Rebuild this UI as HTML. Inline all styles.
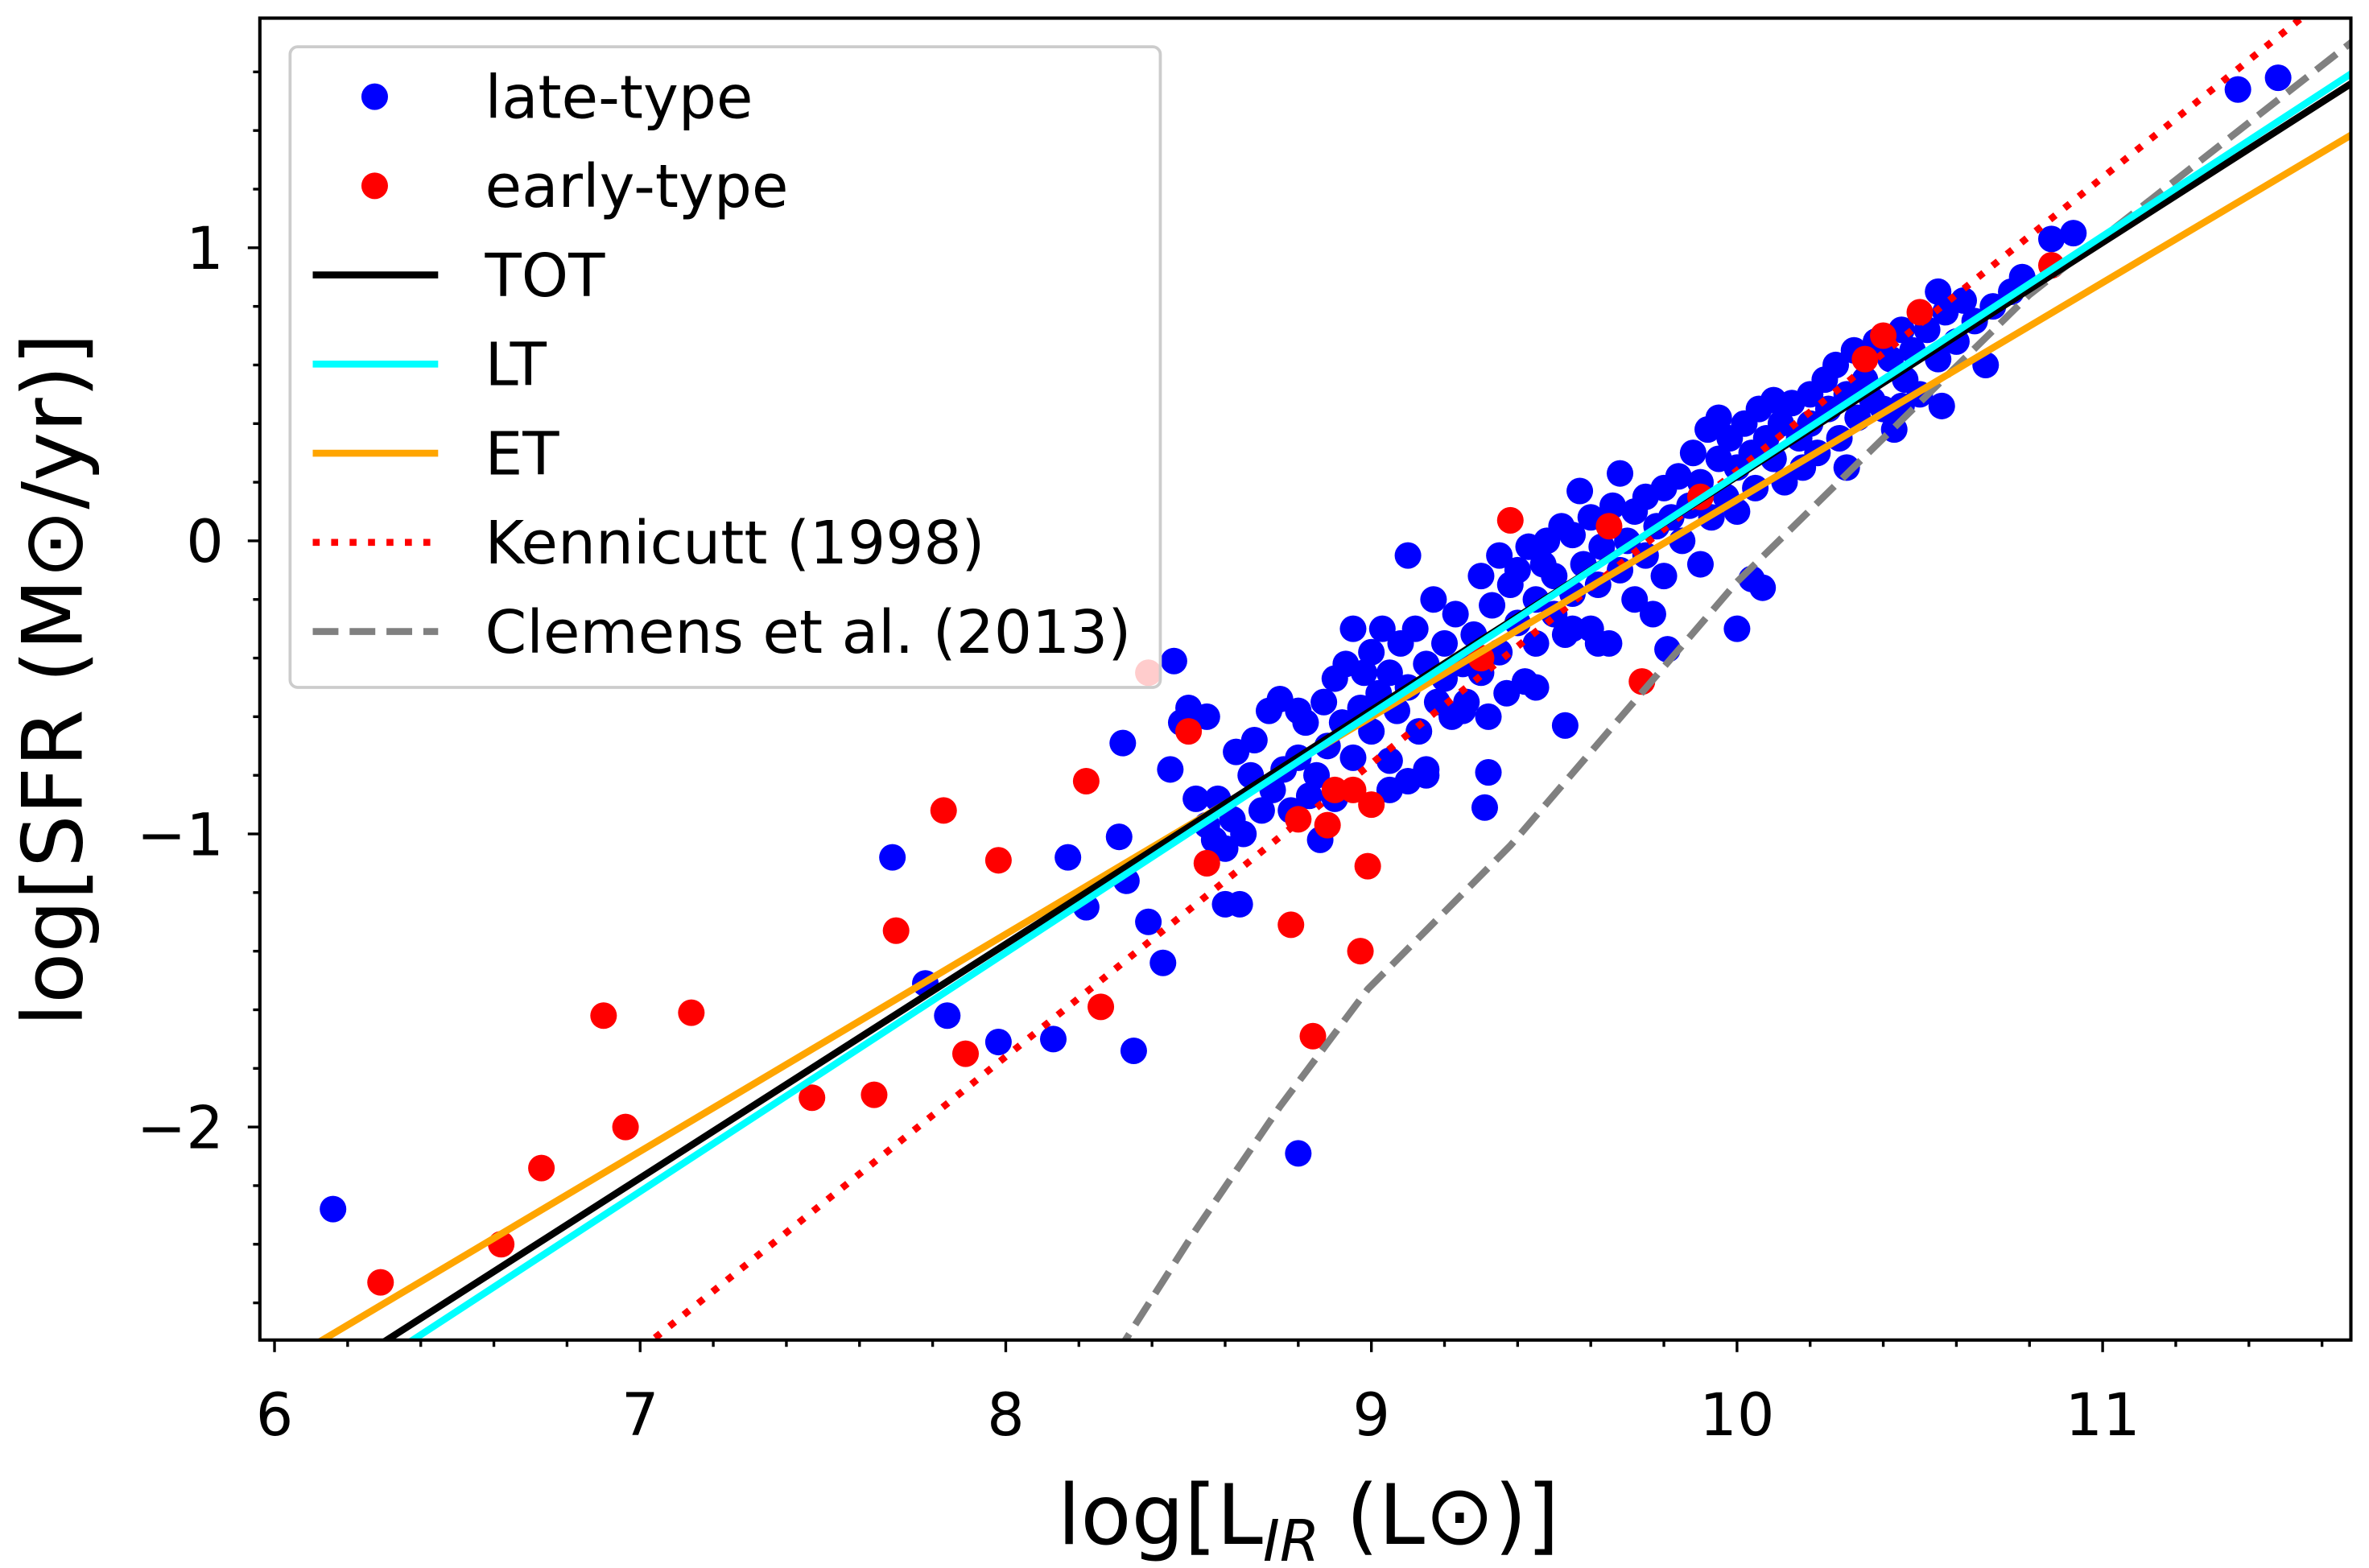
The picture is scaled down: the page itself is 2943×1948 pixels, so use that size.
<!DOCTYPE html>
<html><head><meta charset="utf-8"><style>
html,body{margin:0;padding:0;background:#fff;width:2943px;height:1948px;overflow:hidden}
svg{display:block}
text{font-family:"DejaVu Sans","Liberation Sans",sans-serif;fill:#000}
</style></head><body>
<svg id="chart" width="2943" height="1948" viewBox="0 0 1568 1037.9" preserveAspectRatio="none" xmlns="http://www.w3.org/2000/svg">
<g id="plot"></g>
</svg>
<script>
const xTicks=[6,7,8,9,10,11];
const yTicks=[-2,-1,0,1];
const yTickLabels=["\u22122","\u22121","0","1"];
const lateX=[6.16,7.69,7.78,7.84,7.98,8.13,8.17,8.22,8.31,8.32,8.35,8.33,8.39,8.43,8.46,8.80,9.10,10.0,10.04,10.07,9.81,9.53,9.32,9.31,11.37,11.48,10.92,10.86,10.55,10.45,10.56,10.68,
8.45,8.48,8.50,8.52,8.55,8.55,8.57,8.58,8.60,8.60,8.62,8.63,8.64,8.65,8.67,8.68,8.70,8.72,8.73,8.75,8.76,8.78,8.80,8.80,8.82,8.83,8.85,8.86,8.87,8.88,8.90,8.90,8.92,8.93,8.95,8.95,8.97,8.98,9.00,9.00,9.02,9.03,9.05,9.05,9.07,9.08,9.10,9.10,9.12,9.13,9.15,9.15,9.17,9.18,9.20,9.20,9.22,9.23,9.25,9.26,9.28,9.30,9.30,9.32,9.33,9.35,9.35,9.37,9.38,9.40,9.40,9.42,9.43,9.45,9.45,9.47,9.48,9.50,9.50,9.52,9.53,9.55,9.55,9.57,9.58,9.60,9.60,9.62,9.63,9.65,9.66,9.68,9.68,9.70,9.72,9.72,9.75,9.75,9.77,9.78,9.80,9.80,9.82,9.84,9.85,9.87,9.88,9.90,9.90,9.92,9.93,9.95,9.95,9.97,9.98,10.00,10.00,10.02,10.04,10.05,10.06,10.08,10.10,10.10,10.12,10.13,10.15,10.17,10.18,10.20,10.20,10.22,10.24,10.25,10.27,10.28,10.30,10.30,10.32,10.33,10.35,10.37,10.38,10.40,10.42,10.43,10.45,10.46,10.48,10.50,10.52,10.55,10.57,10.60,10.62,10.65,10.70,10.75,10.78,9.55,9.62,9.45,9.25,9.05,9.15];
const lateY=[-2.28,-1.08,-1.51,-1.62,-1.71,-1.70,-1.08,-1.25,-1.01,-0.69,-1.74,-1.16,-1.30,-1.44,-0.41,-2.09,-0.05,-0.30,-0.13,-0.16,-0.37,-0.63,-0.79,-0.91,1.54,1.58,1.05,1.03,0.85,0.46,0.46,0.60,
-0.78,-0.62,-0.57,-0.88,-0.60,-0.97,-1.02,-0.88,-1.05,-1.24,-0.95,-0.72,-1.24,-1.00,-0.80,-0.68,-0.92,-0.58,-0.85,-0.54,-0.78,-0.92,-0.74,-0.58,-0.62,-0.87,-0.80,-1.02,-0.55,-0.70,-0.47,-0.88,-0.62,-0.42,-0.30,-0.74,-0.57,-0.45,-0.65,-0.38,-0.52,-0.30,-0.75,-0.45,-0.58,-0.35,-0.82,-0.50,-0.30,-0.65,-0.42,-0.78,-0.20,-0.55,-0.35,-0.47,-0.60,-0.25,-0.42,-0.55,-0.32,-0.12,-0.45,-0.60,-0.22,-0.05,-0.38,-0.52,-0.15,-0.28,-0.10,-0.48,-0.02,-0.20,-0.35,-0.08,0.00,-0.25,-0.12,0.05,-0.32,-0.18,0.02,0.17,-0.08,-0.30,0.08,-0.15,-0.02,-0.35,0.12,-0.10,0.23,0.00,-0.20,0.10,0.15,-0.05,-0.25,0.05,0.18,-0.12,0.08,0.22,0.00,0.12,0.30,-0.08,0.20,0.38,0.08,0.28,0.42,0.15,0.35,0.10,0.25,0.40,0.30,0.18,0.45,0.35,0.28,0.48,0.40,0.20,0.47,0.35,0.25,0.50,0.40,0.30,0.55,0.45,0.60,0.35,0.50,0.25,0.65,0.42,0.55,0.48,0.68,0.45,0.62,0.38,0.72,0.55,0.65,0.50,0.72,0.62,0.78,0.68,0.82,0.75,0.80,0.85,0.90,-0.30,-0.35,-0.50,-0.58,-0.85,-0.80];
const earlyX=[6.29,6.62,6.73,6.90,6.96,7.14,7.47,7.64,7.70,7.83,7.89,7.98,8.22,8.26,8.39,8.78,8.84,8.97,8.99,9.38,9.74,10.50,10.86,8.50,8.55,8.90,8.95,9.00,8.80,8.88,9.30,9.65,9.90,10.35,10.40];
const earlyY=[-2.53,-2.40,-2.14,-1.62,-2.00,-1.61,-1.90,-1.89,-1.33,-0.92,-1.75,-1.09,-0.82,-1.59,-0.45,-1.31,-1.69,-1.40,-1.11,0.07,-0.48,0.78,0.94,-0.65,-1.10,-0.85,-0.85,-0.90,-0.95,-0.97,-0.40,0.05,0.15,0.62,0.70];
const totFit=[0.798,-7.76];
const ltFit=[0.815,-7.925];
const etFit=[0.741,-7.27];
const kenFit=[1.0,-9.76];
const clemX=[8.30,8.515,8.75,8.99,9.38,10.0,10.8,11.7];
const clemY=[-2.78,-2.36,-1.93,-1.53,-1.04,-0.14,0.84,1.72];

const NS="http://www.w3.org/2000/svg";
const L=172,R=1556,T=12,B=887;
const sx=v=>181.7+(v-6)*242;
const sy=v=>358-v*194;
const plot=document.getElementById('plot');
function mk(tag,attrs,parent){const e=document.createElementNS(NS,tag);for(const k in attrs)e.setAttribute(k,attrs[k]);(parent||plot).appendChild(e);return e;}
const defs=mk('defs',{});
const cp=mk('clipPath',{id:'clip'},defs);
mk('rect',{x:L,y:T,width:R-L,height:B-T},cp);
const data=mk('g',{'clip-path':'url(#clip)'});


const LW=4.6;
const R0=8.8;

for(let i=0;i<lateX.length;i++){
  const c=mk('circle',{cx:sx(lateX[i]),cy:sy(lateY[i]),r:R0,fill:'#0000ff'},data);
  
  
}
for(let i=0;i<earlyX.length;i++){
  const c=mk('circle',{cx:sx(earlyX[i]),cy:sy(earlyY[i]),r:R0,fill:'#ff0000'},data);
  
  
}
function fitLine(f,color,dash,name){
  const a=5.9,b=11.8;
  const attrs={x1:sx(a),y1:sy(f[0]*a+f[1]),x2:sx(b),y2:sy(f[0]*b+f[1]),stroke:color,'stroke-width':LW,fill:'none'};
  if(dash)attrs['stroke-dasharray']=dash;
  const l=mk('line',attrs,data);
  
  
}
fitLine(kenFit,'#ff0000','4.6 7.6','kennicutt-line');
const pts=clemX.map((v,i)=>sx(v)+','+sy(clemY[i])).join(' ');
const cl=mk('polyline',{points:pts,stroke:'#808080','stroke-width':LW,fill:'none','stroke-dasharray':'17 7.4'},data);


fitLine(etFit,'#ffa500',null,'et-fit-line');
fitLine(totFit,'#000000',null,'tot-fit-line');
fitLine(ltFit,'#00ffff',null,'lt-fit-line');

// ticks
for(let v=6;v<=11.61;v+=0.2){
  const vv=Math.round(v*10)/10;const major=Math.abs(vv-Math.round(vv))<1e-6;
  const t=mk('line',{x1:sx(vv),x2:sx(vv),y1:B,y2:B+(major?8:4.5),stroke:'#000','stroke-width':1.8});
  
  
}
xTicks.forEach(v=>{const t=mk('text',{x:sx(v),y:950,'font-size':39,'text-anchor':'middle'});t.textContent=v;
  
  });
for(let v=-2.6;v<=1.71;v+=0.2){
  const vv=Math.round(v*10)/10;const major=Math.abs(vv-Math.round(vv))<1e-6;
  const t=mk('line',{x1:L,x2:L-(major?8:4.5),y1:sy(vv),y2:sy(vv),stroke:'#000','stroke-width':1.8});
  
  
}
yTicks.forEach((v,i)=>{const t=mk('text',{x:148,y:sy(v)+14,'font-size':39,'text-anchor':'end'});t.textContent=yTickLabels[i];
  
  });
const fr=mk('rect',{x:L,y:T,width:R-L,height:B-T,fill:'none',stroke:'#000','stroke-width':2.2});



// legend
const lg=mk('g',{});


mk('rect',{x:192,y:31,width:576,height:424,rx:5,fill:'#fff','fill-opacity':0.8,stroke:'#cccccc','stroke-width':2},lg);
const entries=[['late-type','dot','#0000ff'],['early-type','dot','#ff0000'],['TOT','line','#000'],['LT','line','#00ffff'],['ET','line','#ffa500'],['Kennicutt (1998)','dot-line','#ff0000'],['Clemens et al. (2013)','dash','#808080']];
entries.forEach((e,i)=>{
  const y=64+i*59;
  const g=mk('g',{},lg);
  
  
  if(e[1]==='dot')mk('circle',{cx:248,cy:y,r:R0,fill:e[2]},g);
  else{const a={x1:207,x2:290,y1:y,y2:y,stroke:e[2],'stroke-width':LW};
    if(e[1]==='dot-line')a['stroke-dasharray']='4.6 7.6';
    if(e[1]==='dash')a['stroke-dasharray']='17 7.4';
    mk('line',a,g);}
  const t=mk('text',{x:321,y:y+14,'font-size':39.5},g);t.textContent=e[0];
});

// axis titles
const xt=mk('text',{x:866,y:1022,'font-size':55,'text-anchor':'middle'});
xt.innerHTML='log[L<tspan font-size="38" font-style="italic" dy="11">IR</tspan><tspan dy="-11"> (L\u2299)]</tspan>';


const yt=mk('text',{x:0,y:0,'font-size':55,'text-anchor':'middle',transform:'translate(54,450) rotate(-90)'});
yt.textContent='log[SFR (M\u2299/yr)]';


</script>
</body></html>
